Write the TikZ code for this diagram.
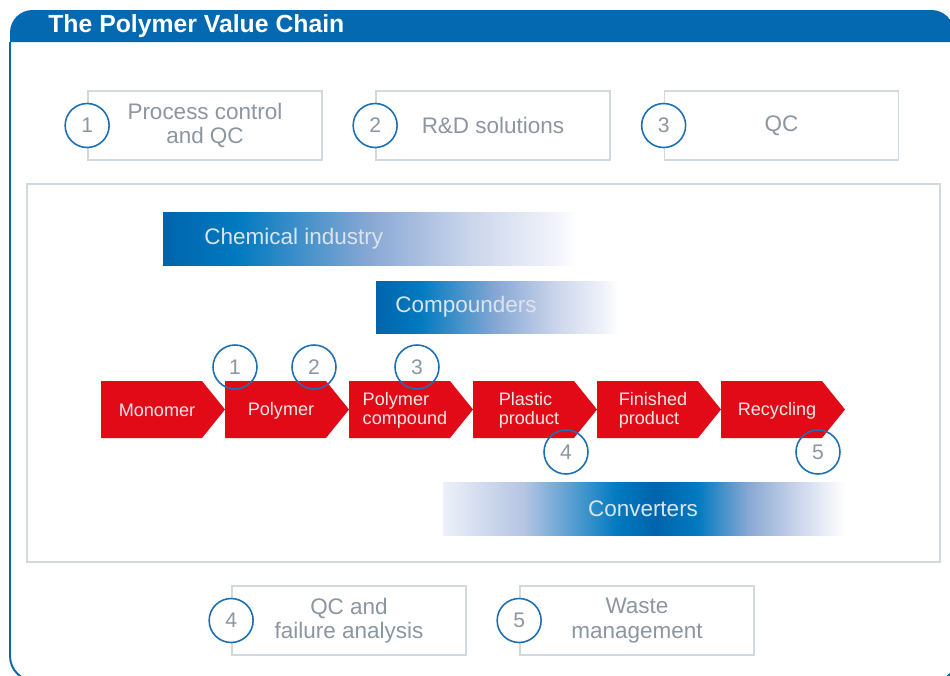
\documentclass[tikz,border=0pt]{standalone}
\usepackage{fontspec}
\setmainfont{Liberation Sans}
\usetikzlibrary{calc}
\definecolor{HeadBlue}{HTML}{0469B1}
\definecolor{RingBlue}{HTML}{1A6FB5}
\definecolor{BoxGrey}{HTML}{D0D9E0}
\definecolor{LabelGrey}{HTML}{8A96A0}
\definecolor{ChainRed}{HTML}{E20A16}
\definecolor{ChainText}{HTML}{EEE8E8}
\definecolor{BarText}{HTML}{DCE4EE}
\definecolor{BarDark}{RGB}{0,100,172}
\definecolor{BarBright}{RGB}{0,122,192}
\definecolor{BarMid}{RGB}{136,168,212}
\definecolor{BarPale}{RGB}{202,213,235}
\definecolor{BarFaint}{RGB}{240,242,250}
\definecolor{BarEdge}{RGB}{236,240,249}
\definecolor{BarSoft}{RGB}{182,197,227}
\pgfdeclarehorizontalshading{leadfade}{100bp}{color(0bp)=(BarDark);
  color(25bp)=(BarDark); color(34bp)=(BarBright); color(50bp)=(BarMid);
  color(62bp)=(BarPale); color(72bp)=(BarFaint); color(75bp)=(white);
  color(100bp)=(white)}
\pgfdeclarehorizontalshading{midfade}{100bp}{color(0bp)=(BarEdge);
  color(25bp)=(BarEdge); color(35bp)=(BarSoft); color(46.6bp)=(BarBright);
  color(51.4bp)=(BarDark); color(56.6bp)=(BarBright); color(63bp)=(BarMid);
  color(69bp)=(BarPale); color(75bp)=(white); color(100bp)=(white)}
\newcommand{\boxw}{4.68cm}
\newcommand{\boxh}{1.38cm}
\newcommand{\ringsize}{0.88cm}
\newcommand{\chevbody}{101}
\newcommand{\chevtip}{23}
\newcommand{\chevtop}{381}
\newcommand{\chevmid}{409.5}
\newcommand{\titlefont}{\fontsize{14.1}{16}\selectfont\bfseries}
\newcommand{\boxfont}{\fontsize{12.8}{13.8}\selectfont}
\newcommand{\chevfont}{\fontsize{10.3}{10.9}\selectfont}
\newcommand{\ringfont}{\fontsize{12}{14}\selectfont}
\tikzset{
  labelbox/.style={draw=BoxGrey, line width=1pt, minimum width=\boxw,
    minimum height=\boxh, inner sep=0pt, align=center, text=LabelGrey,
    font=\boxfont},
  ring/.style={circle, draw=RingBlue, line width=0.9pt,
    minimum size=\ringsize, inner sep=0pt, text=LabelGrey, font=\ringfont},
  chevlabel/.style={align=left, text=ChainText, font=\chevfont, inner sep=0pt},
  barlabel/.style={text=BarText, font=\boxfont, inner sep=0pt}
}

\begin{document}
\begin{tikzpicture}[x=0.02cm,y=-0.02cm]
  \useasboundingbox (0,0) rectangle (950,676);
  \clip (0,0) rectangle (950,676);
  % outer frame and header
  \draw[HeadBlue, line width=1.1pt] (10,42) [rounded corners=0.5cm]
    -- (10,681) -- (958,681) -- (958,42);
  \fill[HeadBlue] (10,42) [rounded corners=0.45cm] -- (10,10)
    -- (954,10) [sharp corners] -- (954,42) -- cycle;
  \node[anchor=base west, text=white, font=\titlefont, inner sep=0pt]
    (title) at (48,32) {The Polymer Value Chain};
  % top row of services
  \node[labelbox] (pc) at (205,125.5) {Process control\\and QC};
  \node[labelbox] (rd) at (493,125.5) {R\&D solutions};
  \node[labelbox] (qc) at (781.5,125.5) {QC};
  \node[ring, fill=white] (s1) at (pc.west) {1};
  \node[ring, fill=white] (s2) at (rd.west) {2};
  \node[ring, fill=white] (s3) at (qc.west) {3};
  % chain panel
  \draw[BoxGrey, line width=1pt] (27,184) rectangle (940,562);
  \shade[shading=leadfade] (163,212) rectangle (577,265);
  \node[barlabel, anchor=west] (chem) at (204,238.5) {Chemical industry};
  \shade[shading=leadfade] (376,281) rectangle (618,333);
  \node[barlabel, anchor=west] (comp) at (395,307) {Compounders};
  \shade[shading=midfade] (443,482) rectangle (845,535);
  \node[barlabel] (conv) at (643,508.5) {Converters};
  % red chevrons
  \foreach \x/\name/\lbl in {101/mono/Monomer, 225/poly/Polymer,
      349/cpd/{Polymer\\compound}, 473/plast/{Plastic\\product},
      597/fin/{Finished\\product}, 721/recy/Recycling}{
    \fill[ChainRed] (\x,\chevtop) -- ++(\chevbody,0) -- ++(\chevtip,28.5)
      -- ++(-\chevtip,28.5) -- ++(-\chevbody,0) -- cycle;
    \node[chevlabel] (\name) at ({\x+56},{\chevmid+1}) {\lbl};
  }
  \node[ring] (c1) at (235,367) {1};
  \node[ring] (c2) at (314,367) {2};
  \node[ring] (c3) at (417,367) {3};
  \node[ring] (c4) at (566,452) {4};
  \node[ring] (c5) at (818,452) {5};
  % bottom row of services
  \node[labelbox] (fa) at (349,620.5) {QC and\\failure analysis};
  \node[labelbox] (wm) at (637,620.5) {Waste\\management};
  \node[ring, fill=white] (s4) at (fa.west) {4};
  \node[ring, fill=white] (s5) at (wm.west) {5};
\end{tikzpicture}
\end{document}
